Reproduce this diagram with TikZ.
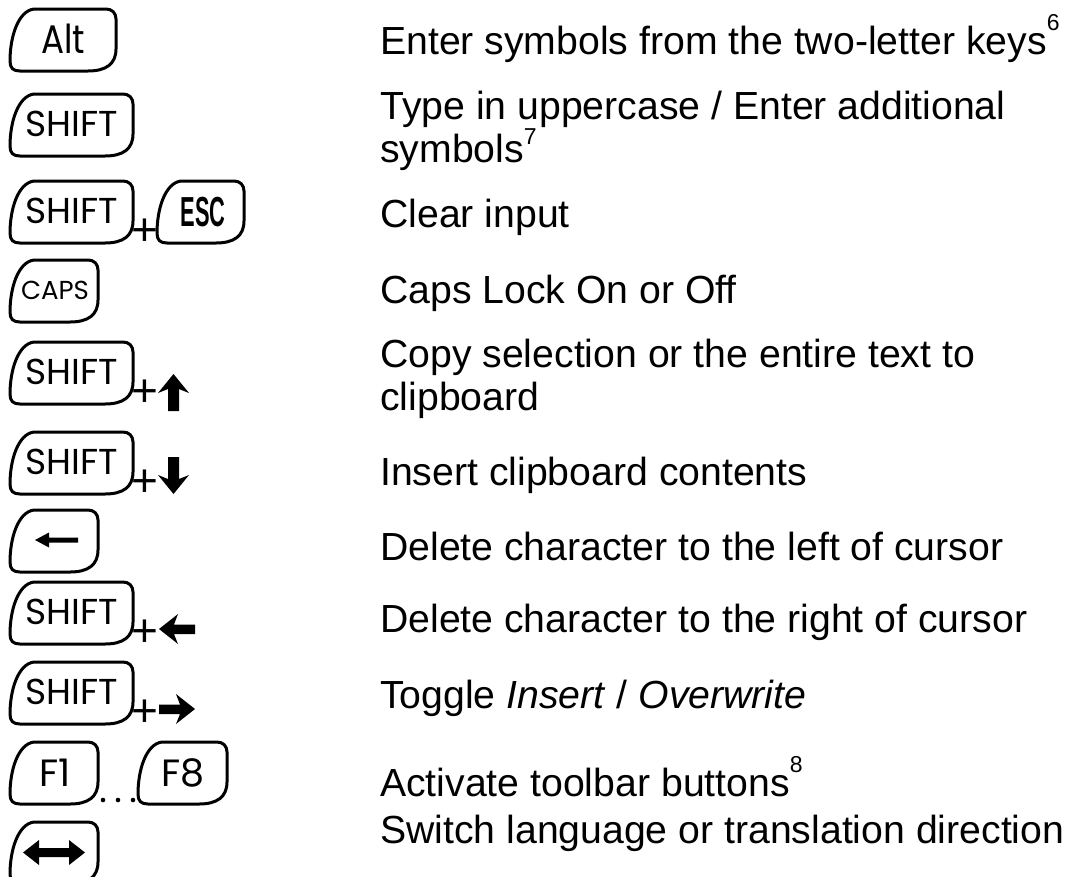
\documentclass[tikz,border=0pt]{standalone}
\usepackage{fontspec}
\setmainfont{Liberation Sans}
\newfontfamily\keyfont{Poppins}
\newcommand\fnmark[2]{\raisebox{#1pt}{\fontsize{23}{23}\selectfont #2}}
\newcommand\kbkey[3]{%
  \draw[keyline] ({#1+24},#2) -- ({#1+#3-10},#2)
    .. controls ({#1+#3-4},#2) and ({#1+#3},{#2+4}) .. ({#1+#3},{#2+10})
    -- ({#1+#3},{#2+40})
    .. controls ({#1+#3},{#2+55}) and ({#1+#3-10},{#2+62}) .. ({#1+#3-28},{#2+62})
    -- ({#1+10},{#2+62})
    .. controls ({#1+3},{#2+62}) and (#1,{#2+59}) .. (#1,{#2+52})
    .. controls (#1,{#2+28}) and ({#1+8},{#2+2}) .. ({#1+24},#2) -- cycle;}
\tikzset{
  keyline/.style={line width=3pt, line join=round, draw=black},
  desc/.style={anchor=base west, inner sep=0pt, font=\fontsize{39.2}{39.2}\selectfont},
  keylabel/.style={anchor=base, inner sep=0pt},
  shiftfont/.style={font=\keyfont\fontsize{36}{36}\selectfont},
  bigkeyfont/.style={font=\keyfont\fontsize{38}{38}\selectfont},
  plussign/.style={anchor=base, inner sep=0pt, font=\fontsize{46}{46}\selectfont},
  arrowfill/.style={fill=black},
}
\begin{document}
\begin{tikzpicture}[x=1pt,y=-1pt]
\path[use as bounding box] (0,0) rectangle (1075,876);
\fill[white] (0,0) rectangle (1075,876);
\clip (0,0) rectangle (1075,876);

% row 1: Alt
\kbkey{10}{9}{106}
\node[keylabel, bigkeyfont] (alt) at (63,53) {\scalebox{0.9}[1.05]{Alt}};
\node[desc] (d1) at (380,54) {Enter symbols from the two-letter keys\fnmark{24}{6}};

% row 2: SHIFT
\kbkey{10}{94}{123}
\node[keylabel, shiftfont] (sh2) at (72,136) {SHIFT};
\node[desc] (d2a) at (380,119) {Type in uppercase / Enter additional};
\node[desc] (d2b) at (380,162) {symbols\fnmark{18}{7}};

% row 3: SHIFT + ESC
\kbkey{10}{181}{123}
\node[keylabel, shiftfont] (sh3) at (72,223) {SHIFT};
\node[plussign] (p3) at (144.5,245) {+};
\kbkey{157}{181}{87}
\node[keylabel, font=\bfseries\fontsize{42}{42}\selectfont] (esc) at (203,226) {\scalebox{0.52}[1]{ESC}};
\node[desc] (d3) at (380,227) {Clear input};

% row 4: CAPS
\kbkey{10}{260}{88}
\node[keylabel, font=\keyfont\fontsize{26}{26}\selectfont] (caps) at (55,299) {CAPS};
\node[desc] (d4) at (380,303) {Caps Lock On or Off};

% row 5: SHIFT + up
\kbkey{10}{342}{123}
\node[keylabel, shiftfont] (sh5) at (72,384) {SHIFT};
\node[plussign] (p5) at (144.5,406) {+};
\fill[arrowfill] (173.5,374) -- (189,393) -- (179,389) -- (179,411) -- (168,411) -- (168,389) -- (158,393) -- cycle;
\node[desc] (d5a) at (380,367) {Copy selection or the entire text to};
\node[desc] (d5b) at (380,410) {clipboard};

% row 6: SHIFT + down
\kbkey{10}{432}{123}
\node[keylabel, shiftfont] (sh6) at (72,474) {SHIFT};
\node[plussign] (p6) at (144.5,496) {+};
\fill[arrowfill] (173.5,494) -- (189,475) -- (179,479) -- (179,457) -- (168,457) -- (168,479) -- (158,475) -- cycle;
\node[desc] (d6) at (380,485) {Insert clipboard contents};

% row 7: backspace
\kbkey{10}{510}{88}
\fill[arrowfill] (35,540) -- (49,532.5) -- (49,537.5) -- (78,537.5) -- (78,542.5) -- (49,542.5) -- (49,547.5) -- cycle;
\node[desc] (d7) at (380,560) {Delete character to the left of cursor};

% row 8: SHIFT + left
\kbkey{10}{582}{123}
\node[keylabel, shiftfont] (sh8) at (72,624) {SHIFT};
\node[plussign] (p8) at (144.5,646) {+};
\fill[arrowfill] (159,629) -- (178,614) -- (174,624.5) -- (195,624.5) -- (195,634) -- (174,634) -- (178,644) -- cycle;
\node[desc] (d8) at (380,632) {Delete character to the right of cursor};

% row 9: SHIFT + right
\kbkey{10}{662}{123}
\node[keylabel, shiftfont] (sh9) at (72,704) {SHIFT};
\node[plussign] (p9) at (144.5,726) {+};
\fill[arrowfill] (195,709) -- (176,694) -- (180,704.5) -- (159,704.5) -- (159,714) -- (180,714) -- (176,724) -- cycle;
\node[desc] (d9) at (380,708) {Toggle \textit{Insert} / \textit{Overwrite}};

% row 10: F1 ... F8
\kbkey{10}{742}{88}
\node[keylabel, bigkeyfont] (f1) at (55,786) {F1};
\fill (103,800) circle (2.3) (118,800) circle (2.3) (133,800) circle (2.3);
\kbkey{138}{742}{89}
\node[keylabel, bigkeyfont] (f8) at (183,786) {F8};
\node[desc] (d10) at (380,796) {Activate toolbar buttons\fnmark{24}{8}};

% row 11: language switch
\kbkey{10}{822}{88}
\fill[arrowfill] (23,852.5) -- (39,840) -- (39,848) -- (69,848) -- (69,840) -- (85,852.5) -- (69,865) -- (69,857) -- (39,857) -- (39,865) -- cycle;
\node[desc] (d11) at (380,843) {Switch language or translation direction};
\end{tikzpicture}
\end{document}
